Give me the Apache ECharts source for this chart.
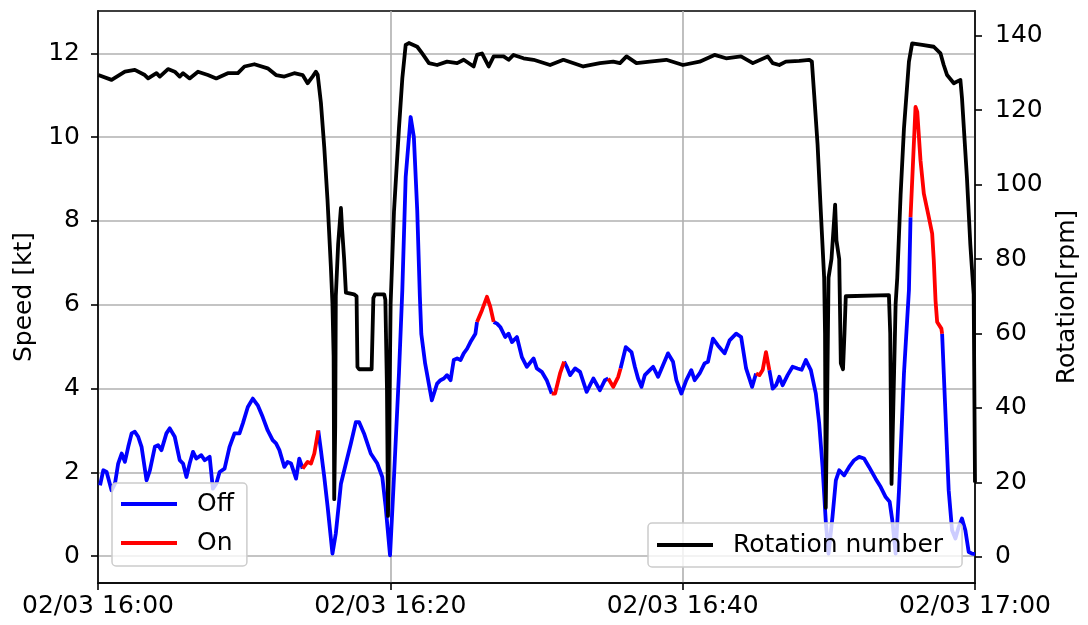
<!DOCTYPE html>
<html><head><meta charset="utf-8">
<script src="https://cdn.jsdelivr.net/npm/echarts@6/dist/echarts.min.js"></script>
<style>html,body{margin:0;padding:0;background:#fff}#c{width:1088px;height:625px}</style>
</head><body><div id="c"></div>
<script>
// ---- data (minutes after 02/03 16:00) ----
const speedMinutes = [0.14,0.36,0.59,0.93,1.16,1.38,1.62,1.84,2.07,2.30,2.52,2.75,2.98,3.32,3.55,3.89,4.11,4.34,4.68,4.91,5.25,5.59,5.82,6.05,6.27,6.50,6.73,7.07,7.30,7.64,7.86,8.09,8.32,8.66,9.00,9.34,9.68,9.91,10.25,10.59,10.93,11.27,11.61,11.95,12.18,12.41,12.75,12.97,13.21,13.55,13.77,14.00,14.34,14.57,14.80,15.07,15.25,15.48,15.71,16.04,16.27,16.62,16.96,17.30,17.64,17.86,18.20,18.66,19.11,19.45,19.68,19.98,20.25,20.59,20.82,21.05,21.39,21.61,21.84,22.02,22.12,22.38,22.84,23.20,23.43,23.66,23.88,24.12,24.34,24.57,24.80,25.02,25.25,25.48,25.82,25.93,26.27,26.61,26.84,27.07,27.30,27.52,27.86,28.09,28.32,28.66,29.00,29.34,29.80,30.02,30.36,30.70,31.04,31.27,31.61,31.89,32.07,32.30,32.64,32.98,33.43,33.89,34.34,34.68,34.91,35.25,35.59,35.75,36.11,36.50,36.73,36.95,37.18,37.41,37.75,37.98,38.32,38.66,39.00,39.34,39.57,39.91,40.25,40.59,40.82,41.16,41.50,41.73,42.07,42.41,42.87,43.21,43.66,44.00,44.34,44.75,45.02,45.25,45.48,45.70,45.93,46.16,46.39,46.61,46.84,47.18,47.52,47.86,48.14,48.43,48.77,49.11,49.34,49.57,49.80,49.98,50.25,50.48,50.71,51.05,51.39,51.73,52.07,52.41,52.75,53.20,53.55,53.89,54.16,54.34,54.57,54.80,55.14,55.48,55.59,55.93,56.05,56.27,56.50,56.84,57.07,57.18,57.30,57.41,57.70,57.75,57.98,58.20,58.43,58.66,58.89,59.11,59.34,59.57,59.80,60.00];
const speedKnots = [1.69,2.05,2.01,1.57,1.73,2.21,2.45,2.25,2.61,2.93,2.97,2.85,2.61,1.81,2.05,2.61,2.65,2.53,2.93,3.05,2.85,2.29,2.21,1.89,2.21,2.49,2.33,2.41,2.29,2.37,1.61,1.73,2.01,2.09,2.61,2.93,2.93,3.17,3.56,3.76,3.60,3.32,3.00,2.77,2.69,2.53,2.13,2.25,2.21,1.85,2.33,2.09,2.25,2.21,2.45,3.00,2.53,1.89,1.18,0.06,0.54,1.73,2.21,2.69,3.20,3.20,2.93,2.45,2.21,1.89,1.18,0.02,1.89,4.36,6.35,9.05,10.48,10.00,8.25,6.20,5.30,4.60,3.72,4.12,4.20,4.24,4.32,4.20,4.68,4.72,4.68,4.84,4.95,5.11,5.31,5.59,5.87,6.19,5.95,5.59,5.55,5.47,5.23,5.31,5.11,5.23,4.75,4.52,4.72,4.48,4.40,4.20,3.88,3.88,4.36,4.64,4.52,4.32,4.48,4.40,3.92,4.24,3.96,4.20,4.24,4.04,4.28,4.48,4.99,4.87,4.52,4.24,4.04,4.32,4.44,4.52,4.28,4.56,4.84,4.64,4.20,3.88,4.20,4.44,4.20,4.36,4.60,4.64,5.19,5.03,4.84,5.15,5.31,5.23,4.48,4.04,4.36,4.32,4.45,4.87,4.44,4.00,4.08,4.28,4.08,4.32,4.52,4.48,4.45,4.68,4.44,3.88,3.17,2.13,0.78,0.06,0.94,1.81,2.05,1.93,2.13,2.29,2.37,2.33,2.13,1.85,1.65,1.41,1.30,0.86,0.06,1.57,4.36,6.35,8.09,10.72,10.60,9.45,8.65,8.09,7.70,7.06,6.10,5.59,5.43,5.31,3.40,1.57,0.62,0.42,0.70,0.90,0.62,0.10,0.06,0.05];
// periods (minutes) in which the state is "On"
const onPeriods = [[14.00,15.07],[25.93,27.07],[31.04,31.89],[34.91,35.75],[45.02,45.93],[55.59,57.75]];

const rotMinutes = [0.02,0.93,1.84,2.52,3.20,3.43,4.00,4.23,4.79,5.25,5.59,5.82,6.27,6.84,7.52,8.09,8.88,9.57,10.02,10.70,11.61,12.18,12.75,13.43,14.00,14.34,14.68,14.91,15.03,15.25,15.48,15.70,15.93,16.04,16.12,16.16,16.23,16.27,16.43,16.62,16.70,16.84,16.96,17.05,17.52,17.69,17.75,17.86,18.72,18.84,18.95,19.58,19.66,19.77,19.84,19.91,20.02,20.25,20.59,20.82,21.05,21.27,21.84,22.18,22.64,23.20,23.88,24.57,25.02,25.70,25.93,26.27,26.73,27.07,27.75,28.09,28.43,29.11,29.80,30.93,31.84,33.20,34.34,35.25,35.71,36.16,36.84,37.75,38.88,40.02,41.16,42.18,42.97,43.99,44.80,45.82,46.16,46.61,47.06,47.98,48.66,48.84,49.00,49.23,49.45,49.68,49.74,49.79,49.88,49.98,50.18,50.32,50.43,50.52,50.71,50.77,50.82,50.97,51.07,51.16,51.27,54.11,54.20,54.29,54.41,54.57,54.68,54.91,55.14,55.48,55.70,56.39,57.18,57.64,57.86,58.09,58.55,59.00,59.11,59.45,59.68,59.91,60.00];
const rotRpm = [129.4,128.1,130.3,130.8,129.4,128.5,129.9,129.0,131.0,130.3,129.0,129.9,128.5,130.3,129.4,128.5,129.9,129.9,131.7,132.3,131.2,129.4,129.0,129.9,129.4,127.2,129.0,130.3,129.5,122,110,96,78,68,54,15.5,35,70,84,93.7,88,80,71,70.5,70.5,70,51,50.4,50.4,69.5,70.5,70.5,69,45,11,30,68,92.8,115.1,128.5,137.5,138.0,137.0,135.2,132.6,132.1,133.0,132.6,133.5,131.7,134.8,135.2,131.7,134.4,134.4,133.5,134.8,133.9,133.5,132.1,133.5,131.7,132.6,133.0,132.6,134.4,132.6,133.0,133.5,132.1,133.0,134.8,133.9,134.4,132.6,134.4,132.6,132.1,133.0,133.2,133.5,133.0,124,110.7,92.8,74.9,60,13.2,40,75,80,88,94.6,85,80,65,52,50.4,60,70,70.5,70.3,60,19.6,40,68,74.9,97.2,115.1,133.0,137.9,137.5,137.0,135.2,132.1,129.4,127.2,128.1,123.2,101.7,83.9,70.5,20];

const xTickMinutes = [0,20,40,60];
const xTickLabels = ['02/03 16:00','02/03 16:20','02/03 16:40','02/03 17:00'];
const speedTicks = [0,2,4,6,8,10,12];
const rpmTicks = [0,20,40,60,80,100,120,140];

// ---- build series ----
function segOn(i){
  const a = speedMinutes[i], b = speedMinutes[i+1];
  return onPeriods.some(p => a >= p[0]-1e-9 && b <= p[1]+1e-9);
}
const n = speedMinutes.length;
const offData = [], onData = [];
for (let i = 0; i < n; i++){
  const prev = i > 0 ? segOn(i-1) : null;
  const next = i < n-1 ? segOn(i) : null;
  const inOff = prev === false || next === false;
  const inOn = prev === true || next === true;
  offData.push([speedMinutes[i], inOff ? speedKnots[i] : '-']);
  onData.push([speedMinutes[i], inOn ? speedKnots[i] : '-']);
}
const rotData = rotMinutes.map((t,i)=>[t, rotRpm[i]]);

const FONT = 'DejaVu Sans';
const axisLine = {show:true, onZero:false, lineStyle:{color:'#000', width:1.6}};
const axisTickBase = {show:true, length:7, inside:false, lineStyle:{color:'#000', width:1.6}};
const gridLine = {show:true, lineStyle:{color:'#b0b0b0', width:1.6}};
const legendBase = {
  orient:'vertical', icon:'rect', itemWidth:56, itemHeight:3.8, itemGap:9,
  backgroundColor:'rgba(255,255,255,0.8)', borderColor:'#cccccc', borderWidth:1.5, borderRadius:4,
  textStyle:{fontFamily:FONT, fontSize:25, color:'#000', lineHeight:30, padding:[0,0,0,15]},
  selectedMode:false, z:10
};

const chart = echarts.init(document.getElementById('c'), null, {renderer:'canvas'});
chart.setOption({
  animation:false,
  backgroundColor:'#fff',
  textStyle:{fontFamily:FONT},
  grid:{left:98, right:111, top:11, bottom:42, show:true, borderColor:'#000', borderWidth:1.6, backgroundColor:'transparent'},
  xAxis:{
    type:'value', min:0, max:60, interval:20,
    axisLine:axisLine, axisTick:axisTickBase,
    axisLabel:{fontFamily:FONT, fontSize:25, color:'#000', margin:11,
      formatter:v => { const k = xTickMinutes.indexOf(v); return k >= 0 ? xTickLabels[k] : ''; }},
    splitLine:gridLine
  },
  yAxis:[{
    type:'value', min:-0.64, max:13.01, position:'left',
    name:'Speed [kt]', nameLocation:'middle', nameRotate:90, nameGap:58,
    nameTextStyle:{fontFamily:FONT, fontSize:25, color:'#000'},
    axisLine:axisLine,
    axisTick:Object.assign({customValues:speedTicks}, axisTickBase),
    axisLabel:{fontFamily:FONT, fontSize:25, color:'#000', margin:18, customValues:speedTicks},
    splitLine:gridLine
  },{
    type:'value', min:-7.0, max:146.6, position:'right',
    name:'Rotation[rpm]', nameLocation:'middle', nameRotate:90, nameGap:80,
    nameTextStyle:{fontFamily:FONT, fontSize:25, color:'#000'},
    axisLine:axisLine,
    axisTick:Object.assign({customValues:rpmTicks}, axisTickBase),
    axisLabel:{fontFamily:FONT, fontSize:25, color:'#000', margin:20, customValues:rpmTicks},
    splitLine:{show:false}
  }],
  legend:[
    Object.assign({}, legendBase, {data:['Off','On'], left:112, top:483, padding:[6,13,8,9]}),
    Object.assign({}, legendBase, {data:['Rotation number'], left:648, top:523, padding:[7,19,7,9]})
  ],
  series:[
    {name:'Off', type:'line', yAxisIndex:0, data:offData, symbol:'none', showSymbol:false,
     lineStyle:{color:'#0000ff', width:3.8, join:'round'}, itemStyle:{color:'#0000ff'}, z:2},
    {name:'On', type:'line', yAxisIndex:0, data:onData, symbol:'none', showSymbol:false,
     lineStyle:{color:'#ff0000', width:3.8, join:'round'}, itemStyle:{color:'#ff0000'}, z:2},
    {name:'Rotation number', type:'line', yAxisIndex:1, data:rotData, symbol:'none', showSymbol:false,
     lineStyle:{color:'#000000', width:3.8, join:'round'}, itemStyle:{color:'#000000'}, z:3}
  ]
});
</script>
</body></html>
